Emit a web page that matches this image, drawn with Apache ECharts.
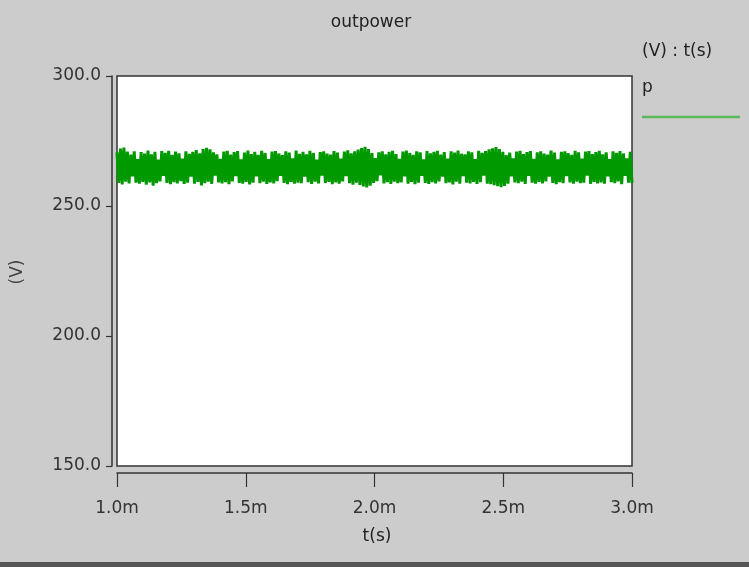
<!DOCTYPE html>
<html>
<head>
<meta charset="utf-8">
<script src="https://cdn.jsdelivr.net/npm/echarts@6/dist/echarts.min.js"></script>
<style>
html,body{margin:0;padding:0;background:#cccccc;}
#c{width:749px;height:567px;}
</style>
</head>
<body>
<div id="c"></div>
<script>
// Time range (ms) and tick labels
const timeStart = 1.0;
const timeEnd = 3.0;
const xTicks = ['1.0m', '1.5m', '2.0m', '2.5m', '3.0m'];
const yTicks = ['150.0', '200.0', '250.0', '300.0'];

// Estimated local maxima of the signal p (V), read left to right
const peaks = [
  270.6, 272.1, 272.5, 270.9, 269.8, 271.0, 268.0, 270.7, 270.2, 271.3,
  269.9, 270.8, 267.8, 271.1, 270.4, 271.2, 269.7, 270.9, 270.3, 268.2,
  271.0, 270.1, 270.8, 271.5, 270.3, 271.9, 272.4, 271.8, 270.6, 269.9,
  268.1, 270.9, 271.2, 269.8, 270.7, 271.1, 267.9, 270.5, 271.3, 270.0,
  270.8, 269.7, 271.2, 270.4, 268.0, 270.9, 271.1, 270.2, 269.6, 271.0,
  270.5, 268.3, 271.3, 270.1, 270.8, 269.9, 271.2, 270.4, 267.8, 270.7,
  271.0, 270.2, 269.8, 271.1, 270.5, 268.2, 270.9, 271.4, 270.3, 271.0,
  271.7, 272.3, 272.8, 271.9, 270.4, 268.4, 270.6, 271.0, 269.9, 270.8,
  271.2, 270.0, 268.1, 270.9, 271.3, 270.4, 269.7, 271.0, 270.6, 267.9,
  271.1, 270.3, 270.8, 271.2, 269.8, 270.7, 268.2, 271.0, 270.5, 271.3,
  270.1, 269.9, 271.0, 270.6, 268.0, 271.2, 270.4, 271.1, 271.8, 272.2,
  272.7, 271.9, 270.8, 269.6, 270.5, 268.3, 270.9, 271.2, 270.0, 270.7,
  271.1, 268.1, 270.6, 271.0, 270.2, 269.8, 271.3, 270.5, 267.9, 270.8,
  271.0, 270.3, 269.7, 271.2, 270.6, 268.2, 270.9, 271.1, 270.0, 270.7,
  271.2, 269.9, 270.6, 268.0, 271.0, 270.4, 271.1, 270.2, 268.3, 270.8
];

// Estimated local minima of the signal p (V), read left to right
const troughs = [
  258.9, 258.3, 259.4, 258.7, 261.4, 259.0, 258.6, 259.3, 258.2, 259.1,
  257.8, 258.8, 259.5, 261.6, 258.9, 258.4, 259.2, 258.7, 259.6, 258.5,
  259.0, 261.3, 258.6, 259.3, 257.9, 258.8, 259.4, 258.5, 261.7, 259.1,
  258.7, 259.2, 258.4, 259.5, 261.5, 258.9, 258.6, 259.3, 258.3, 259.0,
  261.4, 258.8, 259.4, 258.5, 259.1, 258.7, 259.6, 261.6, 258.9, 258.4,
  259.3, 258.6, 259.0, 258.8, 261.3, 259.2, 258.5, 259.4, 258.7, 261.7,
  258.9, 259.3, 258.4, 259.1, 258.6, 259.5, 261.5, 258.8, 258.2, 259.0,
  258.1, 257.5, 257.1, 257.8, 258.9, 259.6, 261.8, 258.7, 259.2, 258.5,
  259.4, 258.8, 259.1, 261.4, 258.6, 259.3, 258.4, 259.0, 261.6, 258.9,
  258.5, 259.2, 258.7, 259.5, 261.3, 258.8, 259.1, 258.3, 259.4, 258.6,
  261.5, 259.0, 258.7, 259.3, 258.5, 259.2, 261.7, 258.6, 258.4, 258.0,
  257.6, 257.2, 257.7, 258.6, 261.4, 259.1, 258.8, 259.4, 258.5, 261.6,
  259.0, 258.6, 259.3, 258.7, 259.5, 261.3, 258.9, 258.4, 259.2, 258.8,
  261.5, 259.1, 258.6, 259.4, 258.8, 259.0, 261.7, 258.5, 259.3, 258.7,
  259.1, 258.6, 261.4, 259.2, 258.8, 259.5, 258.4, 261.6, 259.0, 258.8
];

// Signal p: maxima and minima interleaved on a uniform time grid
const signal = [];
for (let i = 0; i < peaks.length; i++) { signal.push(peaks[i]); signal.push(troughs[i]); }
const n = signal.length;
const seriesData = signal.map((v, i) => [timeStart + (timeEnd - timeStart) * i / (n - 1), v]);

const FONT = 'DejaVu Sans';
const FS = 17;
const GREEN = '#009900';
const chart = echarts.init(document.getElementById('c'), null, {renderer: 'canvas'});
chart.setOption({
  backgroundColor: '#cccccc',
  animation: false,
  grid: {
    left: 117, right: 117, top: 76, bottom: 101,
    show: true, backgroundColor: '#ffffff', borderColor: '#333333', borderWidth: 1.5
  },
  xAxis: {
    type: 'value', min: timeStart, max: timeEnd, interval: 0.5,
    offset: 7,
    axisLine: {show: true, onZero: false, lineStyle: {color: '#333', width: 1.5}},
    axisTick: {show: true, length: 14, lineStyle: {color: '#333', width: 1.2}},
    splitLine: {show: false},
    axisLabel: {
      margin: 27, color: '#333', fontFamily: FONT, fontSize: FS,
      formatter: function (v) { return xTicks[Math.round((v - timeStart) / 0.5)]; }
    }
  },
  yAxis: {
    type: 'value', min: 150, max: 300, interval: 50,
    offset: 5,
    axisLine: {show: true, lineStyle: {color: '#333', width: 1.5}},
    axisTick: {show: true, length: 6, lineStyle: {color: '#333', width: 1.2}},
    splitLine: {show: false},
    axisLabel: {
      margin: 11, color: '#333', fontFamily: FONT, fontSize: FS,
      formatter: function (v) { return yTicks[Math.round((v - 150) / 50)]; }
    }
  },
  series: [{
    type: 'line', name: 'p', data: seriesData,
    showSymbol: false, symbol: 'none', smooth: false,
    lineStyle: {color: GREEN, width: 3, join: 'bevel', cap: 'butt'}
  }],
  graphic: [
    {type: 'text', x: 371, y: 23, style: {text: 'outpower', font: FS + 'px ' + FONT, fill: '#222', align: 'center', verticalAlign: 'middle'}},
    {type: 'text', x: 642, y: 52, style: {text: '(V) : t(s)', font: FS + 'px ' + FONT, fill: '#222', verticalAlign: 'middle'}},
    {type: 'text', x: 642, y: 88, style: {text: 'p', font: FS + 'px ' + FONT, fill: '#222', verticalAlign: 'middle'}},
    {type: 'line', shape: {x1: 642, y1: 117, x2: 740, y2: 117}, style: {stroke: '#5cb85c', lineWidth: 2.5}},
    {type: 'text', x: 377, y: 537, style: {text: 't(s)', font: FS + 'px ' + FONT, fill: '#222', align: 'center', verticalAlign: 'middle'}},
    {type: 'text', x: 18, y: 272, rotation: Math.PI / 2, style: {text: '(V)', font: FS + 'px ' + FONT, fill: '#444', align: 'center', verticalAlign: 'middle'}},
    {type: 'rect', shape: {x: 0, y: 562, width: 749, height: 5}, style: {fill: '#555555'}}
  ]
});
</script>
</body>
</html>
